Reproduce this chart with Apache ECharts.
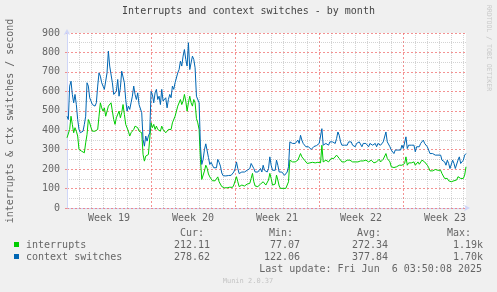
<!DOCTYPE html>
<html><head><meta charset="utf-8">
<script src="https://cdn.jsdelivr.net/npm/echarts@6/dist/echarts.min.js"></script>
<style>html,body{margin:0;padding:0;background:#F0F0F0}#c{width:497px;height:292px}</style>
</head><body><div id="c"></div><script>
const chartTitle = 'Interrupts and context switches - by month';
const yAxisTitle = 'interrupts & ctx switches / second';
const watermark = 'RRDTOOL / TOBI OETIKER';
const footer = 'Munin 2.0.37';
const weekLabels = ['Week 19', 'Week 20', 'Week 21', 'Week 22', 'Week 23'];
const seriesNames = ['interrupts', 'context switches'];
const seriesColors = ['#00CC00', '#0066B3'];
const hoursShown = 798;
const yMax = 900;

const interrupts = [
361,352,404,472,430,387,413,395,370,301,292,292,292,284,335,378,455,438,413,395,404,395,395,404,472,541,515,498,515,472,481,524,515,541,550,455,430,464,472,498,464,490,532,481,430,421,395,370,387,395,404,421,430,413,395,395,387,275,241,267,275,275,
284,438,413,430,404,421,404,413,395,421,404,395,387,378,404,413,404,438,447,472,464,524,515,558,532,550,584,550,498,541,575,541,524,558,541,460,438,404,250,147,150,190,220,205,175,160,150,140,145,140,150,160,135,130,110,104,104,106,104,105,107,
106,106,118,127,161,135,110,101,118,123,113,118,123,118,127,152,178,135,113,123,110,118,123,113,135,127,118,127,144,178,152,118,113,123,169,144,113,101,106,101,96,101,110,135,246,237,237,246,237,237,246,255,280,263,255,246,237,229,237,232,
232,235,236,232,233,235,237,232,323,237,237,246,246,237,246,255,251,255,263,272,263,255,246,237,242,237,242,246,255,246,251,237,246,237,242,237,246,242,232,242,237,246,251,237,242,246,237,232,242,237,246,251,237,246,251,255,280,255,246,237,212,203,
208,215,212,215,220,212,220,220,229,263,220,232,225,232,229,237,220,229,237,225,232,246,255,237,229,220,208,191,198,191,194,198,203,194,203,194,177,168,152,144,152,140,130,135,144,140,135,144,161,169,152,144,152,169,212
];
const contextSwitches = [
472,455,627,652,584,541,584,532,455,404,387,378,395,430,472,644,627,567,550,532,541,524,541,627,695,678,644,627,610,601,695,807,730,721,644,584,592,601,661,575,618,704,712,644,558,498,524,507,541,575,627,584,558,592,532,541,490,352,318,370,344,370,
387,600,584,541,592,610,558,575,532,610,550,541,567,515,558,584,567,627,610,644,635,695,712,755,730,781,815,764,730,850,712,747,781,764,721,575,584,541,318,224,250,300,330,327,260,224,235,220,207,207,207,250,235,215,180,166,164,165,167,167,167,
168,168,185,203,237,203,177,168,185,194,185,185,194,185,203,229,237,203,185,194,185,194,203,185,220,194,185,185,203,263,220,194,185,194,246,220,185,177,185,177,168,177,185,212,340,332,332,340,332,323,349,332,374,349,332,323,315,306,315,306,
301,310,316,318,321,326,332,323,408,323,332,332,340,323,340,332,340,349,332,357,391,374,340,323,332,323,315,323,340,332,340,323,332,315,332,323,340,332,315,332,323,332,340,315,332,340,323,315,332,315,332,340,323,332,340,332,391,340,332,315,298,289,
280,298,289,298,306,298,323,306,315,366,306,323,315,323,315,323,289,315,323,315,332,340,349,332,323,315,298,280,289,280,284,272,280,272,263,272,246,255,237,220,246,229,203,203,246,229,203,212,246,263,229,229,246,272,280
];
const statHeaders = ['Cur:', 'Min:', 'Avg:', 'Max:'];
const interruptsStats = ['212.11', '77.07', '272.34', '1.19k'];
const contextStats = ['278.62', '122.06', '377.84', '1.70k'];
const lastUpdate = 'Last update: Fri Jun  6 03:50:08 2025';

const FONT = '"DejaVu Sans Mono", monospace';
const TXT = '#666666';
const MGRID = 'rgba(240,110,110,0.75)';
const GRID = 'rgba(140,140,140,0.38)';
const AXIS = '#CFD6F8';

const chart = echarts.init(document.getElementById('c'), null, {renderer: 'canvas'});

const headerRight = [204, 293, 381, 471];
const valueRight = [210, 300, 388, 483];
const graphics = [];
function txt(x, y, s, opts) {
  graphics.push(Object.assign({type: 'text', x: x, y: y, silent: true,
    style: Object.assign({text: s, font: '10px ' + FONT, fill: TXT, align: 'left', verticalAlign: 'middle'}, opts || {})}));
}
graphics.push({type: 'text', x: 10, y: 121, rotation: Math.PI / 2, silent: true,
  style: {text: yAxisTitle, font: '10px ' + FONT, fill: TXT, align: 'center', verticalAlign: 'middle'}});
graphics.push({type: 'text', x: 489, y: 48, rotation: -Math.PI / 2, silent: true,
  style: {text: watermark, font: '6.5px ' + FONT, fill: '#C8C8C8', align: 'center', verticalAlign: 'middle'}});
statHeaders.forEach((h, i) => txt(headerRight[i], 233.5, h, {align: 'right'}));
[interruptsStats, contextStats].forEach((row, r) => {
  const y = 245 + r * 12;
  graphics.push({type: 'rect', silent: true, shape: {x: 14, y: y - 3, width: 5, height: 5}, style: {fill: seriesColors[r]}});
  txt(26, y, seriesNames[r]);
  row.forEach((v, i) => txt(valueRight[i], y, v, {align: 'right'}));
});
txt(482, 269.5, lastUpdate, {align: 'right'});
txt(248, 281.5, footer, {align: 'center', font: '7px ' + FONT, fill: '#C4C4C4'});

// time slots of 2 hours across the shown range (grid helper axis)
const hourSlots = [];
for (let h = 0; h <= hoursShown; h += 2) hourSlots.push(h);

const option = {
  animation: false,
  backgroundColor: '#F0F0F0',
  title: {text: chartTitle, left: 'center', top: 6, padding: 0,
    textStyle: {fontFamily: FONT, fontSize: 10, fontWeight: 'normal', color: '#444'}},
  grid: {left: 67, right: 31, top: 33, bottom: 84, show: true, backgroundColor: '#FFFFFF', borderWidth: 0},
  xAxis: [
    {type: 'category', position: 'bottom', show: false, boundaryGap: false, data: interrupts.map((_, i) => i)},
    {type: 'category', position: 'bottom', boundaryGap: false, data: hourSlots,
      axisLabel: {show: false}, axisTick: {show: false}, axisLine: {show: false},
      splitLine: {show: true, interval: (i, v) => Number(v) % 24 === 0 && Number(v) % 168 !== 0,
        lineStyle: {color: GRID, type: [1, 1], width: 1}}},
    {type: 'category', position: 'bottom', boundaryGap: false, data: hourSlots,
      axisLabel: {show: false}, axisTick: {show: false}, axisLine: {show: false},
      splitLine: {show: true, interval: (i, v) => Number(v) % 168 === 0,
        lineStyle: {color: MGRID, type: [2, 2], width: 1}}},
    {type: 'value', position: 'bottom', min: 0, max: hoursShown, interval: 84,
      axisTick: {show: false}, splitLine: {show: false},
      axisLine: {show: true, onZero: false, lineStyle: {color: AXIS, width: 1}, symbol: ['none', 'arrow'], symbolSize: [5, 6], symbolOffset: [0, 4]},
      axisLabel: {show: true, margin: 5, fontFamily: FONT, fontSize: 10, color: TXT, showMaxLabel: false,
        formatter: v => { const k = Math.round(v / 84); return (Math.abs(v - k * 84) < 1e-6 && k % 2 === 1) ? weekLabels[(k - 1) / 2] : ''; }}}
  ],
  yAxis: {type: 'value', min: 0, max: yMax, interval: 100, z: 2,
    axisLine: {show: true, lineStyle: {color: AXIS, width: 1}, symbol: ['none', 'arrow'], symbolSize: [5, 6], symbolOffset: [0, 4]},
    axisTick: {show: true, length: 2, lineStyle: {color: MGRID}},
    axisLabel: {margin: 7, fontFamily: FONT, fontSize: 10, color: TXT},
    splitLine: {show: true, lineStyle: {color: MGRID, type: [2, 2], width: 1}},
    minorTick: {show: false, splitNumber: 2},
    minorSplitLine: {show: true, lineStyle: {color: GRID, type: [1, 1], width: 1}}},
  series: [
    {type: 'line', name: seriesNames[0], data: interrupts, xAxisIndex: 0, symbol: 'none', showSymbol: false,
      lineStyle: {width: 1, color: seriesColors[0]}, itemStyle: {color: seriesColors[0]}, z: 3},
    {type: 'line', name: seriesNames[1], data: contextSwitches, xAxisIndex: 0, symbol: 'none', showSymbol: false,
      lineStyle: {width: 1, color: seriesColors[1]}, itemStyle: {color: seriesColors[1]}, z: 4}
  ],
  graphic: graphics
};
chart.setOption(option);
</script></body></html>
